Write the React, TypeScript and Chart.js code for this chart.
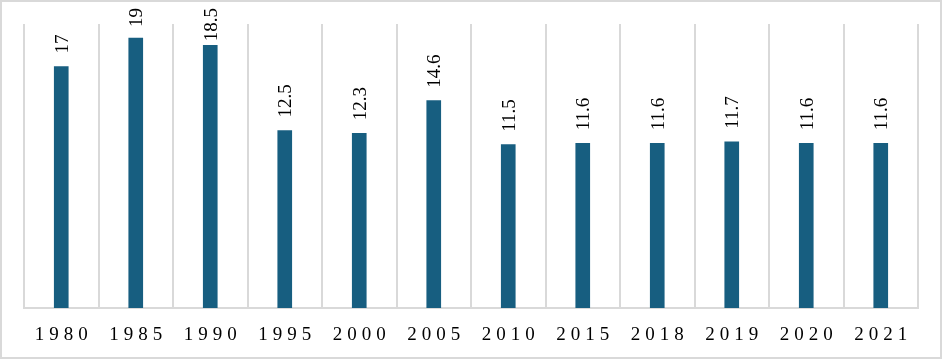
import React, { useEffect, useRef } from "react";
import { Chart, registerables } from "chart.js";

Chart.register(...registerables);

const categories = ["1980", "1985", "1990", "1995", "2000", "2005", "2010", "2015", "2018", "2019", "2020", "2021"];
const values = [17, 19, 18.5, 12.5, 12.3, 14.6, 11.5, 11.6, 11.6, 11.7, 11.6, 11.6];
const valueLabels = ["17", "19", "18.5", "12.5", "12.3", "14.6", "11.5", "11.6", "11.6", "11.7", "11.6", "11.6"];

const BAR_COLOR = "#175E80";
const GRID_COLOR = "#D9D9D9";
const FONT = '19px "Liberation Serif", "Times New Roman", serif';

const customPlugin = {
  id: "customDraw",
  afterDraw(chart: any) {
    const ctx = chart.ctx as CanvasRenderingContext2D;
    const meta = chart.getDatasetMeta(0);
    const xScale = chart.scales.x;
    // value labels (rotated)
    ctx.save();
    ctx.font = FONT;
    ctx.fillStyle = "#000";
    (ctx as any).letterSpacing = "0px";
    meta.data.forEach((bar: any, i: number) => {
      const text = valueLabels[i];
      const w = ctx.measureText(text).width;
      let anchor = bar.y - 13;
      if (anchor - w < 8) anchor = 8 + w;
      ctx.save();
      ctx.translate(bar.x, anchor);
      ctx.rotate(-Math.PI / 2);
      ctx.textAlign = "left";
      ctx.textBaseline = "alphabetic";
      ctx.fillText(text, 0, 6.3);
      ctx.restore();
    });
    ctx.restore();
    // category labels
    ctx.save();
    ctx.font = FONT;
    ctx.fillStyle = "#000";
    (ctx as any).letterSpacing = "5px";
    ctx.textAlign = "center";
    ctx.textBaseline = "alphabetic";
    categories.forEach((c, i) => {
      const x = xScale.getPixelForTick(i);
      ctx.fillText(c, x + 2.5, 339.5);
    });
    ctx.restore();
    // outer border
    ctx.save();
    ctx.strokeStyle = GRID_COLOR;
    ctx.lineWidth = 2;
    ctx.strokeRect(1, 1, chart.width - 2, chart.height - 3);
    ctx.restore();
  },
};

export default function App() {
  const ref = useRef<HTMLCanvasElement | null>(null);
  useEffect(() => {
    document.body.style.margin = "0";
    const canvas = ref.current!;
    const chart = new Chart(canvas, {
      type: "bar",
      data: {
        labels: categories,
        datasets: [
          {
            data: values,
            backgroundColor: BAR_COLOR,
            barThickness: 14,
          },
        ],
      },
      options: {
        animation: false,
        responsive: false,
        devicePixelRatio: 1,
        layout: { padding: { left: 24, right: 24, top: 24, bottom: 52 } },
        plugins: { legend: { display: false }, tooltip: { enabled: false } },
        scales: {
          x: {
            offset: true,
            grid: { color: GRID_COLOR, lineWidth: 2, drawTicks: false, offset: true },
            border: { color: GRID_COLOR, width: 2 },
            ticks: { display: false },
          },
          y: {
            display: false,
            min: 0,
            max: 20,
          },
        },
      },
      plugins: [customPlugin],
    });
    return () => chart.destroy();
  }, []);
  return (
    <div style={{ width: 942, height: 360 }}>
      <canvas ref={ref} width={942} height={360} style={{ display: "block" }} />
    </div>
  );
}
